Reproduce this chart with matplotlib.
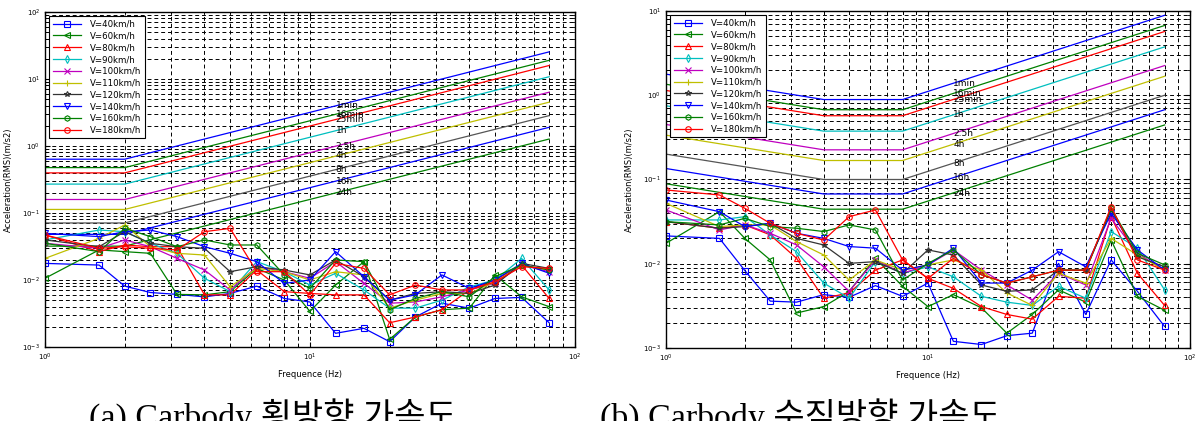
import matplotlib
matplotlib.use("Agg")
import matplotlib.pyplot as plt
from matplotlib.ticker import LogLocator, LogFormatterMathtext, NullFormatter

# 1/3 octave band centres used in the measurement
freq = [1, 1.6, 2, 2.5, 3.15, 4, 5, 6.3, 8, 10, 12.5, 16, 20, 25, 31.5, 40, 50, 63, 80]

speeds = ["V=40km/h", "V=60km/h", "V=80km/h", "V=90km/h", "V=100km/h",
          "V=110km/h", "V=120km/h", "V=140km/h", "V=160km/h", "V=180km/h"]
markers = ['s', '<', '^', 'd', 'x', '+', '*', 'v', 'h', 'o']
colors = ['#0000ff', '#008000', '#ff0000', '#00bfbf', '#bf00bf',
          '#bfbf00', '#333333', '#0000ff', '#008000', '#ff0000']

# (a) lateral carbody acceleration, RMS (m/s2)
lat_v40 = [0.0177, 0.0167, 0.0081, 0.0065, 0.0061, 0.0056, 0.0063, 0.0081, 0.0053, 0.0047,
           0.0016, 0.0019, 0.0012, 0.0028, 0.0045, 0.0038, 0.0053, 0.0055, 0.0023]
lat_v60 = [0.0106, 0.0281, 0.0265, 0.0250, 0.0061, 0.0060, 0.0067, 0.0149, 0.0100, 0.0034,
           0.0084, 0.0188, 0.0013, 0.0028, 0.0036, 0.0038, 0.0119, 0.0056, 0.0040]
lat_v80 = [0.0470, 0.0265, 0.0333, 0.0314, 0.0314, 0.0060, 0.0060, 0.0141, 0.0067, 0.0063,
           0.0060, 0.0060, 0.0023, 0.0028, 0.0036, 0.0071, 0.0100, 0.0167, 0.0053]
lat_v90 = [0.0396, 0.0557, 0.0526, 0.0353, 0.0250, 0.0106, 0.0067, 0.0188, 0.0133, 0.0084,
           0.0126, 0.0071, 0.0038, 0.0038, 0.0050, 0.0079, 0.0100, 0.0210, 0.0071]
lat_v100 = [0.0353, 0.0297, 0.0396, 0.0314, 0.0210, 0.0141, 0.0071, 0.0158, 0.0133, 0.0106,
            0.0188, 0.0089, 0.0045, 0.0047, 0.0056, 0.0071, 0.0089, 0.0167, 0.0133]
lat_v110 = [0.0210, 0.0419, 0.0662, 0.0314, 0.0250, 0.0236, 0.0079, 0.0149, 0.0133, 0.0100,
            0.0133, 0.0119, 0.0038, 0.0050, 0.0063, 0.0063, 0.0094, 0.0167, 0.0141]
lat_v120 = [0.0396, 0.0314, 0.0526, 0.0353, 0.0314, 0.0297, 0.0133, 0.0158, 0.0141, 0.0119,
            0.0199, 0.0112, 0.0050, 0.0063, 0.0067, 0.0063, 0.0084, 0.0177, 0.0149]
lat_v140 = [0.0497, 0.0444, 0.0526, 0.0557, 0.0444, 0.0314, 0.0250, 0.0188, 0.0089, 0.0100,
            0.0265, 0.0112, 0.0050, 0.0060, 0.0119, 0.0075, 0.0100, 0.0177, 0.0126]
lat_v160 = [0.0353, 0.0265, 0.0590, 0.0444, 0.0314, 0.0396, 0.0333, 0.0333, 0.0119, 0.0075,
            0.0199, 0.0188, 0.0036, 0.0053, 0.0067, 0.0056, 0.0112, 0.0167, 0.0141]
lat_v180 = [0.0470, 0.0297, 0.0314, 0.0297, 0.0281, 0.0526, 0.0590, 0.0133, 0.0133, 0.0060,
            0.0177, 0.0149, 0.0060, 0.0084, 0.0071, 0.0071, 0.0094, 0.0158, 0.0149]

# (b) vertical carbody acceleration, RMS (m/s2)
ver_v40 = [0.0214, 0.0200, 0.0083, 0.0036, 0.0035, 0.0043, 0.0040, 0.0055, 0.0041, 0.0059,
           0.0012, 0.0011, 0.0014, 0.0015, 0.0101, 0.0025, 0.0111, 0.0047, 0.0018]
ver_v60 = [0.0175, 0.0415, 0.0200, 0.0111, 0.0026, 0.0031, 0.0047, 0.0116, 0.0054, 0.0031,
           0.0043, 0.0030, 0.0015, 0.0025, 0.0049, 0.0035, 0.0191, 0.0041, 0.0028]
ver_v80 = [0.0316, 0.0264, 0.0289, 0.0220, 0.0116, 0.0039, 0.0045, 0.0084, 0.0111, 0.0067,
           0.0051, 0.0031, 0.0025, 0.0022, 0.0041, 0.0039, 0.0362, 0.0077, 0.0032]
ver_v90 = [0.0331, 0.0331, 0.0362, 0.0220, 0.0139, 0.0059, 0.0039, 0.0106, 0.0077, 0.0092,
           0.0070, 0.0041, 0.0035, 0.0032, 0.0054, 0.0039, 0.0241, 0.0153, 0.0049]
ver_v100 = [0.0435, 0.0252, 0.0289, 0.0230, 0.0167, 0.0092, 0.0047, 0.0111, 0.0077, 0.0097,
            0.0146, 0.0084, 0.0056, 0.0037, 0.0077, 0.0056, 0.0346, 0.0133, 0.0084]
ver_v110 = [0.0521, 0.0276, 0.0289, 0.0289, 0.0183, 0.0127, 0.0064, 0.0111, 0.0084, 0.0097,
            0.0111, 0.0084, 0.0045, 0.0032, 0.0077, 0.0059, 0.0200, 0.0127, 0.0084]
ver_v120 = [0.0316, 0.0264, 0.0276, 0.0302, 0.0200, 0.0167, 0.0101, 0.0106, 0.0077, 0.0146,
            0.0127, 0.0056, 0.0047, 0.0049, 0.0084, 0.0084, 0.0435, 0.0121, 0.0092]
ver_v140 = [0.0571, 0.0415, 0.0276, 0.0302, 0.0230, 0.0200, 0.0160, 0.0153, 0.0084, 0.0097,
            0.0153, 0.0059, 0.0059, 0.0084, 0.0139, 0.0092, 0.0397, 0.0146, 0.0084]
ver_v160 = [0.0316, 0.0289, 0.0346, 0.0276, 0.0264, 0.0241, 0.0289, 0.0252, 0.0064, 0.0101,
            0.0146, 0.0074, 0.0059, 0.0070, 0.0084, 0.0084, 0.0455, 0.0133, 0.0097]
ver_v180 = [0.0751, 0.0655, 0.0455, 0.0302, 0.0230, 0.0191, 0.0362, 0.0435, 0.0111, 0.0067,
            0.0116, 0.0074, 0.0059, 0.0070, 0.0084, 0.0084, 0.0476, 0.0111, 0.0084]

lat_data = [lat_v40, lat_v60, lat_v80, lat_v90, lat_v100, lat_v110, lat_v120, lat_v140, lat_v160, lat_v180]
ver_data = [ver_v40, ver_v60, ver_v80, ver_v90, ver_v100, ver_v110, ver_v120, ver_v140, ver_v160, ver_v180]

# exposure-time boundary curves (corner points)
limit_names = ["1min", "16min", "25min", "1h", "2.5h", "4h", "8h", "16h", "24h"]
limit_colors = ['#0000ff', '#008000', '#ff0000', '#00bfbf', '#bf00bf', '#bfbf00', '#555555', '#0000ff', '#008000']
lat_corner_f = [1, 2, 80]
lat_lim_low = [0.635, 0.476, 0.397, 0.270, 0.159, 0.113, 0.071, 0.048, 0.032]
lat_lim_80 = [25.4, 19.0, 15.9, 10.8, 6.35, 4.51, 2.84, 1.90, 1.27]
ver_corner_f = [1, 4, 8, 80]
ver_lim_1 = [1.78, 1.35, 1.14, 0.75, 0.45, 0.336, 0.20, 0.135, 0.089]
ver_lim_flat = [0.889, 0.673, 0.571, 0.375, 0.225, 0.168, 0.100, 0.0673, 0.0444]
ver_lim_80 = [8.89, 6.73, 5.71, 3.75, 2.25, 1.68, 1.00, 0.673, 0.444]
label_f = 12.5
lat_label_y = [3.97, 2.98, 2.48, 1.69, 0.99, 0.71, 0.44, 0.30, 0.20]
ver_label_y = [1.39, 1.05, 0.89, 0.59, 0.35, 0.26, 0.156, 0.105, 0.069]

plt.rcParams['font.family'] = ['DejaVu Sans']

fig = plt.figure(figsize=(12.03, 4.21), dpi=100)
ax1 = fig.add_axes([0.0374, 0.1758, 0.4404, 0.7957])
ax2 = fig.add_axes([0.5536, 0.1734, 0.4356, 0.8005])


def style_axes(ax, ylo, yhi):
    ax.set_xscale('log')
    ax.set_yscale('log')
    ax.set_xlim(1, 100)
    ax.set_ylim(ylo, yhi)
    ax.xaxis.set_major_locator(LogLocator(base=10))
    ax.yaxis.set_major_locator(LogLocator(base=10))
    ax.xaxis.set_minor_locator(LogLocator(base=10, subs=range(2, 10)))
    ax.yaxis.set_minor_locator(LogLocator(base=10, subs=range(2, 10)))
    ax.xaxis.set_major_formatter(LogFormatterMathtext())
    ax.yaxis.set_major_formatter(LogFormatterMathtext())
    ax.xaxis.set_minor_formatter(NullFormatter())
    ax.yaxis.set_minor_formatter(NullFormatter())
    ax.grid(True, which='both', color='k', ls=(0, (4, 3)), lw=0.7)
    ax.tick_params(which='both', direction='in', top=True, right=True, labelsize=5)
    for s in ax.spines.values():
        s.set_linewidth(1.0)
    ax.set_xlabel("Frequence (Hz)", fontsize=6, labelpad=5)
    ax.set_ylabel("Acceleration(RMS)(m/s2)", fontsize=6, labelpad=7)


style_axes(ax1, 1e-3, 1e2)
style_axes(ax2, 1e-3, 1e1)

for i in range(len(limit_names)):
    ax1.plot(lat_corner_f, [lat_lim_low[i], lat_lim_low[i], lat_lim_80[i]],
             color=limit_colors[i], lw=0.9)
    ax1.text(label_f, lat_label_y[i], limit_names[i], fontsize=6.5, ha='left', va='center')
    ax2.plot(ver_corner_f, [ver_lim_1[i], ver_lim_flat[i], ver_lim_flat[i], ver_lim_80[i]],
             color=limit_colors[i], lw=0.9)
    ax2.text(label_f, ver_label_y[i], limit_names[i], fontsize=6.5, ha='left', va='center')

for ax, data in [(ax1, lat_data), (ax2, ver_data)]:
    for i, vals in enumerate(data):
        ax.plot(freq, vals, color=colors[i], marker=markers[i], ms=4, mew=0.8,
                mfc='none', lw=0.9, label=speeds[i])
    leg = ax.legend(loc='upper left', fontsize=6.2, handlelength=3.3, handletextpad=1.0,
                    labelspacing=0.32, borderaxespad=0.5, borderpad=0.4,
                    fancybox=False, framealpha=1, edgecolor='k')
    leg.get_frame().set_linewidth(0.8)

fig.text(0.227, -0.014, "(a) Carbody 횡방향 가속도", fontsize=24.5, va='baseline', ha='center',
         family=['Liberation Serif', 'Noto Sans CJK KR'])
fig.text(0.665, -0.014, "(b) Carbody 수직방향 가속도", fontsize=24.5, va='baseline', ha='center',
         family=['Liberation Serif', 'Noto Sans CJK KR'])

fig.savefig("out.png", dpi=100)
